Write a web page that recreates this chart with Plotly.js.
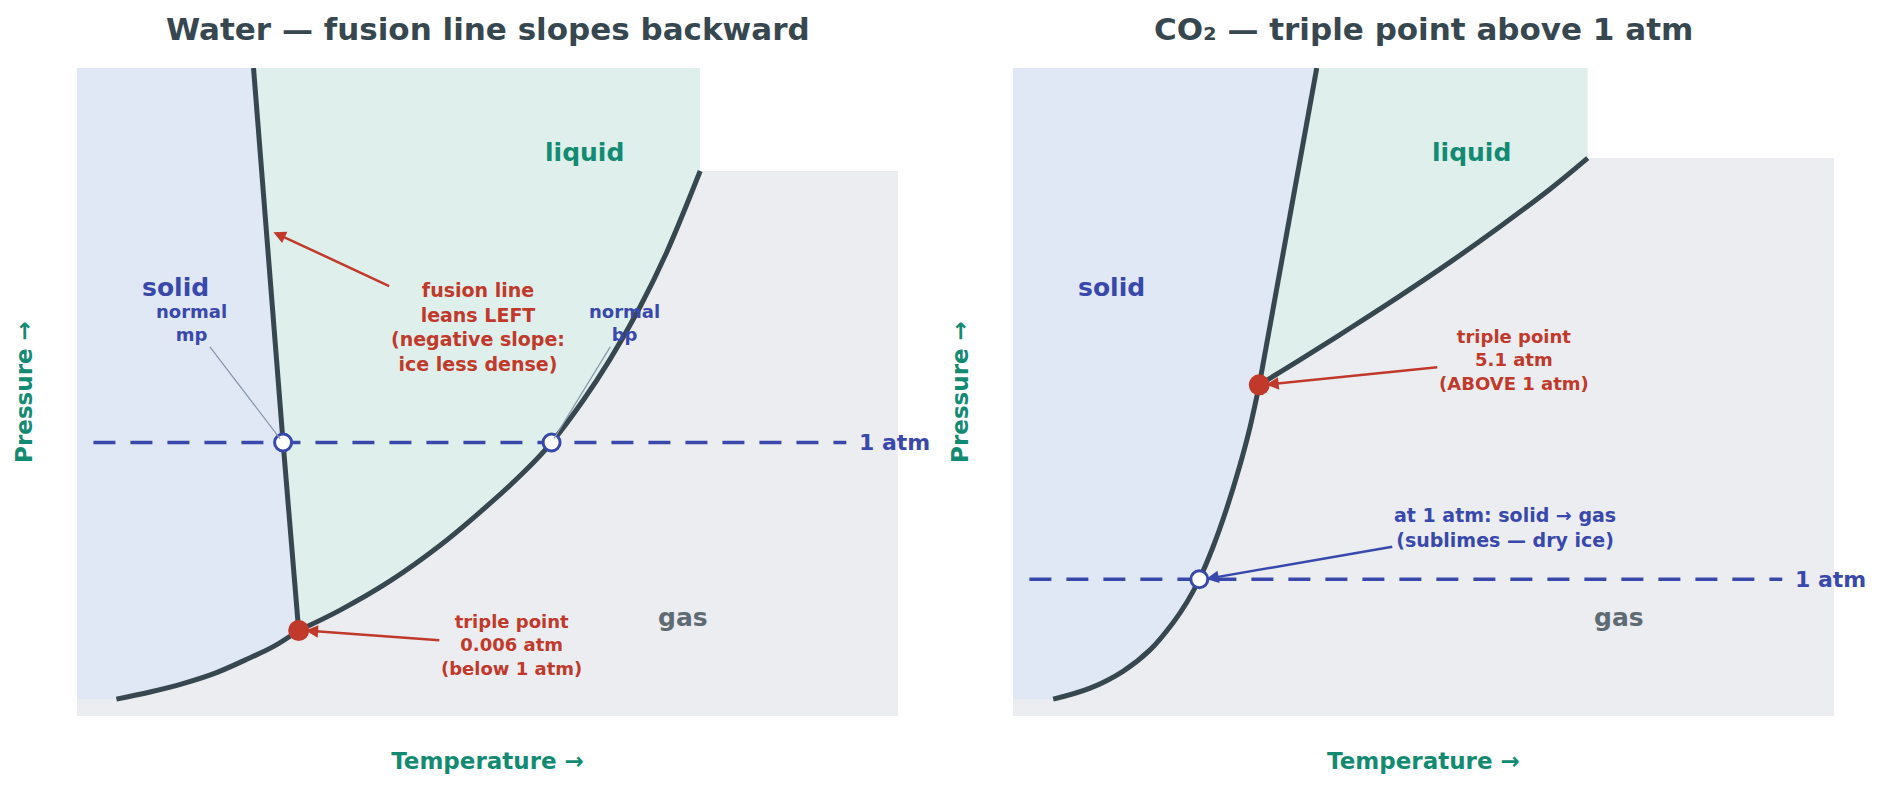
<!DOCTYPE html>
<html><head><meta charset="utf-8">
<script src="https://cdn.plot.ly/plotly-3.0.1.min.js"></script>
<style>html,body{margin:0;padding:0;background:#fff}#chart{width:1882px;height:788px}</style>
</head><body><div id="chart"></div>
<script>
// ---- Water (left panel), schematic units: T on 0..10, P on 0..10 ----
const waterSublT = [0.48, 0.89, 1.29, 1.70, 2.11, 2.39, 2.70];
const waterSublP = [0.26, 0.37, 0.50, 0.67, 0.90, 1.07, 1.32];
const waterFusT  = [2.70, 2.51, 2.15];
const waterFusP  = [1.32, 4.22, 10.0];
const waterVapT  = [2.70, 3.20, 3.81, 4.42, 5.03, 5.44, 5.78, 6.17, 6.49, 6.86, 7.18, 7.59];
const waterVapP  = [1.32, 1.63, 2.08, 2.63, 3.28, 3.76, 4.22, 4.88, 5.50, 6.32, 7.15, 8.41];
const waterTriple = [2.70, 1.32];
const waterMp = [2.51, 4.22];
const waterBp = [5.78, 4.22];
const waterAtm = 4.22;
const waterGasTop = 8.41;

// ---- CO2 (right panel) ----
const co2SublT = [0.49, 0.94, 1.34, 1.67, 1.95, 2.12, 2.27, 2.44, 2.60, 2.76, 2.89, 3.00];
const co2SublP = [0.26, 0.43, 0.69, 1.02, 1.44, 1.76, 2.11, 2.62, 3.19, 3.85, 4.47, 5.11];
const co2FusT  = [3.00, 3.70];
const co2FusP  = [5.11, 10.0];
const co2VapT  = [3.00, 3.50, 4.10, 4.71, 5.32, 5.93, 6.54, 7.00];
const co2VapP  = [5.11, 5.50, 5.98, 6.48, 7.00, 7.55, 8.13, 8.61];
const co2Triple = [3.00, 5.11];
const co2AtmPt = [2.27, 2.11];
const co2Atm = 2.11;
const co2GasTop = 8.61;

const titles = ["Water — fusion line slopes backward", "CO₂ — triple point above 1 atm"];
const regionLabels = ["solid", "liquid", "gas"];

const C = {
  solid: "rgb(224,231,245)", liquid: "rgb(223,239,235)", gas: "rgb(236,237,241)",
  curve: "#37474f", blue: "#3949ab", red: "#c0392b", teal: "#138a72", grey: "#5f6b73",
  thin: "#8a9aae"
};
const FONT = "DejaVu Sans, Verdana, sans-serif";

function panel(xa, ya, sT, sP, fT, fP, vT, vP, gasTop, atm) {
  const xMin = 0, xMax = 10, yMin = 0, yMax = 10;
  const tr = [];
  tr.push({x:[xMin,xMax,xMax,xMin,xMin], y:[yMin,yMin,gasTop,gasTop,yMin], xaxis:xa, yaxis:ya,
    mode:"lines", fill:"toself", fillcolor:C.gas, line:{width:0}, hoverinfo:"skip"});
  const solX = [xMin].concat(sT, fT.slice(1), [xMin, xMin]);
  const solY = [sP[0]].concat(sP, fP.slice(1), [yMax, sP[0]]);
  tr.push({x:solX, y:solY, xaxis:xa, yaxis:ya, mode:"lines", fill:"toself", fillcolor:C.solid,
    line:{width:0}, hoverinfo:"skip"});
  const fr = fT.slice().reverse(), frp = fP.slice().reverse();
  const liqX = fr.concat(vT.slice(1), [vT[vT.length-1], fr[0]]);
  const liqY = frp.concat(vP.slice(1), [yMax, yMax]);
  tr.push({x:liqX, y:liqY, xaxis:xa, yaxis:ya, mode:"lines", fill:"toself", fillcolor:C.liquid,
    line:{width:0}, hoverinfo:"skip"});
  tr.push({x:[0.20, 9.37], y:[atm, atm], xaxis:xa, yaxis:ya, mode:"lines",
    line:{color:C.blue, width:3.5, dash:"22px,15px"}, hoverinfo:"skip"});
  [[sT,sP],[fT,fP],[vT,vP]].forEach(([a,b]) => tr.push({x:a, y:b, xaxis:xa, yaxis:ya, mode:"lines",
    line:{color:C.curve, width:5, shape:"spline", smoothing:1}, hoverinfo:"skip"}));
  return tr;
}

const traces = [].concat(
  panel("x","y", waterSublT, waterSublP, waterFusT, waterFusP, waterVapT, waterVapP, waterGasTop, waterAtm),
  panel("x2","y2", co2SublT, co2SublP, co2FusT, co2FusP, co2VapT, co2VapP, co2GasTop, co2Atm)
);
traces.push({x:[waterMp[0], waterBp[0]], y:[waterMp[1], waterBp[1]], xaxis:"x", yaxis:"y", mode:"markers",
  marker:{size:17, color:"#fff", line:{color:C.blue, width:3}}, hoverinfo:"skip"});
traces.push({x:[waterTriple[0]], y:[waterTriple[1]], xaxis:"x", yaxis:"y", mode:"markers",
  marker:{size:21, color:C.red}, hoverinfo:"skip"});
traces.push({x:[co2AtmPt[0]], y:[co2AtmPt[1]], xaxis:"x2", yaxis:"y2", mode:"markers",
  marker:{size:17, color:"#fff", line:{color:C.blue, width:3}}, hoverinfo:"skip"});
traces.push({x:[co2Triple[0]], y:[co2Triple[1]], xaxis:"x2", yaxis:"y2", mode:"markers",
  marker:{size:21, color:C.red}, hoverinfo:"skip"});

function lab(xr, yr, x, y, text, color, size, extra) {
  return Object.assign({xref:xr, yref:yr, x:x, y:y, text:text, showarrow:false,
    xanchor:"center", yanchor:"middle",
    font:{family:FONT, size:size, color:color, weight:"bold"}}, extra||{});
}
function arr(xr, yr, x, y, tx, ty, text, color, acolor, size, extra) {
  return Object.assign({xref:xr, yref:yr, axref:xr, ayref:yr, x:x, y:y, ax:tx, ay:ty, text:text,
    showarrow:true, arrowhead:2, arrowsize:1, arrowwidth:2.5, arrowcolor:acolor, standoff:2,
    font:{family:FONT, size:size, color:color, weight:"bold"}}, extra||{});
}

const ann = [
  lab("paper","paper", 0.2337, 1.060, titles[0], C.curve, 31),
  lab("paper","paper", 0.7663, 1.060, titles[1], C.curve, 31),
  lab("x","y", 1.20, 6.61, regionLabels[0], C.blue, 25),
  lab("x","y", 6.18, 8.70, regionLabels[1], C.teal, 25),
  lab("x","y", 7.38, 1.52, regionLabels[2], C.grey, 25),
  lab("x2","y2", 1.20, 6.61, regionLabels[0], C.blue, 25),
  lab("x2","y2", 5.58, 8.70, regionLabels[1], C.teal, 25),
  lab("x2","y2", 7.38, 1.52, regionLabels[2], C.grey, 25),
  lab("x","y", 9.50, waterAtm, "1 atm", C.blue, 22, {xanchor:"left"}),
  lab("x2","y2", 9.50, co2Atm, "1 atm", C.blue, 22, {xanchor:"left"}),
  arr("x","y", waterMp[0], waterMp[1], 1.40, 6.06, "normal<br>mp", C.blue, C.thin, 18,
      {arrowhead:0, arrowwidth:1.3, standoff:5}),
  arr("x","y", waterBp[0], waterBp[1], 6.67, 6.06, "normal<br>bp", C.blue, C.thin, 18,
      {arrowhead:0, arrowwidth:1.3, standoff:5}),
  arr("x","y", 2.37, 7.48, 4.88, 6.00, "fusion line<br>leans LEFT<br>(negative slope:<br>ice less dense)", C.red, C.red, 19),
  arr("x","y", waterTriple[0]+0.06, waterTriple[1], 5.29, 1.09, "triple point<br>0.006 atm<br>(below 1 atm)", C.red, C.red, 18),
  arr("x2","y2", co2Triple[0]+0.06, co2Triple[1], 6.10, 5.50, "triple point<br>5.1 atm<br>(ABOVE 1 atm)", C.red, C.red, 18),
  arr("x2","y2", co2AtmPt[0]+0.06, co2AtmPt[1], 5.99, 2.91, "at 1 atm: solid → gas<br>(sublimes — dry ice)", C.blue, C.blue, 19)
];

function xax(dom) {
  return {domain:dom, range:[0,10], showgrid:false, zeroline:false, showline:false, showticklabels:false,
    ticks:"", fixedrange:true,
    title:{text:"Temperature →", standoff:36, font:{family:FONT, size:23, color:C.teal, weight:"bold"}}};
}
function yax(anchor) {
  return {domain:[0,1], range:[0,10], anchor:anchor, showgrid:false, zeroline:false, showline:false,
    showticklabels:false, ticks:"", fixedrange:true,
    title:{text:"Pressure →", standoff:36, font:{family:FONT, size:23, color:C.teal, weight:"bold"}}};
}
const xa1 = xax([0, 0.4673]); xa1.anchor = "y";
const xa2 = xax([0.5327, 1]); xa2.anchor = "y2";

const layout = {
  width:1882, height:788, margin:{l:77, r:48, t:68, b:72},
  paper_bgcolor:"#fff", plot_bgcolor:"rgba(0,0,0,0)", showlegend:false, hovermode:false,
  font:{family:FONT},
  xaxis:xa1, yaxis:yax("x"), xaxis2:xa2, yaxis2:yax("x2"),
  annotations:ann
};
Plotly.newPlot("chart", traces, layout, {displayModeBar:false, staticPlot:true});
</script></body></html>
